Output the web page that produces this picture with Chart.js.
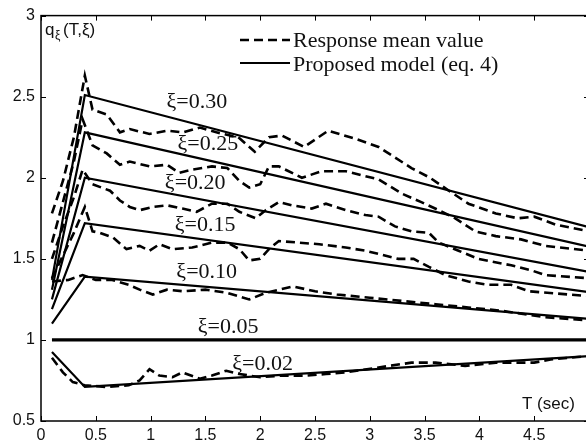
<!DOCTYPE html>
<html>
<head>
<meta charset="utf-8">
<script src="https://cdn.jsdelivr.net/npm/chart.js@4.4.1/dist/chart.umd.min.js"></script>
<style>
html, body { margin: 0; padding: 0; background: #fff; overflow: hidden; }
#wrap { width: 594px; height: 444px; }
</style>
</head>
<body>
<div id="wrap"><canvas id="chart" width="594" height="444"></canvas></div>
<script>
// axis ticks
const xTicks = [0, 0.5, 1, 1.5, 2, 2.5, 3, 3.5, 4, 4.5, 5];
const yTicks = [0.5, 1, 1.5, 2, 2.5, 3];

// proposed model (eq. 4): start, peak at T=0.4, end
const modelT = [0.1, 0.4, 5];
const model30 = [1.37, 2.51, 1.695];
const model25 = [1.31, 2.28, 1.575];
const model20 = [1.25, 2.00, 1.42];
const model15 = [1.19, 1.72, 1.295];
const model10 = [1.10, 1.39, 1.13];
const model05 = [1.00, 1.00, 1.00];
const model02 = [0.925, 0.71, 0.90];

// response mean values
const respT30 = [0.1, 0.2, 0.3, 0.4, 0.47, 0.6, 0.72, 0.81, 0.99, 1.15, 1.3, 1.45, 1.6, 1.8, 1.95, 2.08, 2.2, 2.4, 2.62, 2.87, 3.08, 3.38, 3.55, 3.7, 3.9, 4.15, 4.35, 4.5, 4.7, 5.0];
const resp30  = [1.78, 1.98, 2.25, 2.63, 2.42, 2.39, 2.28, 2.30, 2.27, 2.29, 2.28, 2.31, 2.28, 2.25, 2.16, 2.25, 2.26, 2.19, 2.29, 2.24, 2.19, 2.06, 2.00, 1.93, 1.84, 1.78, 1.75, 1.76, 1.71, 1.67];

const respT25 = [0.1, 0.2, 0.3, 0.38, 0.47, 0.6, 0.72, 0.81, 0.99, 1.15, 1.26, 1.38, 1.56, 1.7, 1.81, 1.9, 2.0, 2.08, 2.17, 2.38, 2.56, 2.78, 2.96, 3.08, 3.3, 3.47, 3.63, 3.78, 3.96, 4.15, 4.38, 4.6, 5.0];
const resp25  = [1.60, 1.85, 2.10, 2.36, 2.20, 2.15, 2.08, 2.10, 2.07, 2.08, 2.03, 2.05, 2.07, 2.06, 1.98, 1.94, 1.96, 2.07, 2.07, 2.00, 2.04, 2.04, 2.01, 1.99, 1.90, 1.85, 1.80, 1.75, 1.67, 1.64, 1.62, 1.58, 1.55];

const respT20 = [0.1, 0.2, 0.3, 0.38, 0.47, 0.63, 0.72, 0.81, 0.9, 1.02, 1.15, 1.29, 1.42, 1.56, 1.7, 1.81, 1.96, 2.05, 2.17, 2.29, 2.47, 2.6, 2.78, 2.96, 3.08, 3.23, 3.38, 3.54, 3.63, 3.81, 3.99, 4.29, 4.47, 4.6, 5.0];
const resp20  = [1.50, 1.70, 1.88, 2.05, 1.96, 1.92, 1.86, 1.82, 1.80, 1.82, 1.83, 1.81, 1.79, 1.84, 1.84, 1.79, 1.75, 1.80, 1.85, 1.83, 1.81, 1.84, 1.80, 1.77, 1.76, 1.70, 1.67, 1.66, 1.60, 1.55, 1.50, 1.46, 1.43, 1.40, 1.38];

const respT15 = [0.1, 0.2, 0.3, 0.4, 0.47, 0.54, 0.66, 0.78, 0.9, 0.99, 1.08, 1.2, 1.38, 1.56, 1.7, 1.81, 1.9, 2.0, 2.08, 2.17, 2.35, 2.54, 2.78, 2.96, 3.08, 3.26, 3.4, 3.54, 3.69, 3.9, 4.08, 4.29, 4.45, 5.0];
const resp15  = [1.38, 1.52, 1.66, 1.82, 1.67, 1.66, 1.63, 1.56, 1.58, 1.55, 1.59, 1.56, 1.57, 1.60, 1.60, 1.56, 1.49, 1.50, 1.56, 1.61, 1.60, 1.59, 1.57, 1.55, 1.53, 1.50, 1.50, 1.45, 1.40, 1.36, 1.34, 1.34, 1.30, 1.27];

const respT10 = [0.1, 0.25, 0.38, 0.5, 0.65, 0.8, 0.9, 1.02, 1.15, 1.3, 1.5, 1.7, 1.9, 2.05, 2.3, 2.5, 2.7, 3.0, 3.3, 3.6, 3.9, 4.2, 4.4, 4.6, 5.0];
const resp10  = [1.36, 1.37, 1.40, 1.37, 1.37, 1.34, 1.31, 1.28, 1.31, 1.30, 1.31, 1.29, 1.25, 1.29, 1.33, 1.30, 1.28, 1.26, 1.24, 1.22, 1.20, 1.18, 1.16, 1.14, 1.12];

const respT02 = [0.1, 0.2, 0.29, 0.4, 0.6, 0.8, 0.9, 0.99, 1.08, 1.2, 1.29, 1.45, 1.56, 1.69, 1.81, 2.0, 2.2, 2.42, 2.6, 2.78, 3.08, 3.38, 3.6, 3.87, 4.15, 4.5, 4.65, 5.0];
const resp02  = [0.89, 0.80, 0.74, 0.72, 0.71, 0.72, 0.75, 0.82, 0.78, 0.77, 0.80, 0.76, 0.78, 0.81, 0.79, 0.77, 0.78, 0.78, 0.79, 0.80, 0.83, 0.86, 0.86, 0.84, 0.86, 0.86, 0.88, 0.90];

// curve labels
const xiLabels = ['\u03BE=0.30', '\u03BE=0.25', '\u03BE=0.20', '\u03BE=0.15', '\u03BE=0.10', '\u03BE=0.05', '\u03BE=0.02'];
const legendLabels = ['Response mean value', 'Proposed model (eq. 4)'];

const serif = "'Liberation Serif', 'Times New Roman', serif";
const sans = "'Liberation Sans', Arial, Helvetica, sans-serif";

const pts = (xs, ys) => xs.map((x, i) => ({ x: x, y: ys[i] }));
const dashed = (xs, ys) => ({ data: pts(xs, ys), borderColor: '#000', borderWidth: 2.6, borderDash: [9, 5] });
const solid = (ys, w) => ({ data: pts(modelT, ys), borderColor: '#000', borderWidth: w || 2.2 });

// label anchors in data units (T, q)
const labelPos = [[1.145, 2.43], [1.245, 2.17], [1.13, 1.93], [1.22, 1.67], [1.235, 1.38], [1.43, 1.04], [1.745, 0.815]];

const annotations = {
    id: 'annotations',
    beforeDatasetsDraw(chart) {
        const { ctx, scales: { x, y } } = chart;
        ctx.save();
        ctx.fillStyle = '#111';
        ctx.font = '22px ' + serif;
        ctx.textBaseline = 'alphabetic';
        xiLabels.forEach((t, i) => {
            ctx.fillText(t, x.getPixelForValue(labelPos[i][0]), y.getPixelForValue(labelPos[i][1]));
        });
        ctx.restore();
    },
    afterDatasetsDraw(chart) {
        const { ctx, chartArea: a, scales: { x, y } } = chart;
        ctx.save();
        // frame
        ctx.strokeStyle = '#000';
        ctx.lineWidth = 1.5;
        ctx.strokeRect(a.left, a.top, a.right - a.left, a.bottom - a.top);
        // inward tick marks
        ctx.lineWidth = 1;
        ctx.beginPath();
        xTicks.forEach(v => {
            const px = Math.round(x.getPixelForValue(v)) + 0.5;
            ctx.moveTo(px, a.bottom); ctx.lineTo(px, a.bottom - 5);
            ctx.moveTo(px, a.top); ctx.lineTo(px, a.top + 5);
        });
        yTicks.forEach(v => {
            const py = Math.round(y.getPixelForValue(v)) + 0.5;
            ctx.moveTo(a.left, py); ctx.lineTo(a.left + 5, py);
            ctx.moveTo(a.right, py); ctx.lineTo(a.right - 5, py);
        });
        ctx.stroke();

        // legend
        ctx.lineWidth = 2.6;
        ctx.setLineDash([9, 5]);
        ctx.beginPath(); ctx.moveTo(240, 40); ctx.lineTo(290, 40); ctx.stroke();
        ctx.setLineDash([]);
        ctx.lineWidth = 2.2;
        ctx.beginPath(); ctx.moveTo(240, 63); ctx.lineTo(290, 63); ctx.stroke();
        ctx.fillStyle = '#111';
        ctx.font = '22px ' + serif;
        ctx.fillText(legendLabels[0], 293, 47);
        ctx.fillText(legendLabels[1], 293, 71);

        // axis names
        ctx.font = '17px ' + sans;
        ctx.fillText('q', 45, 35);
        ctx.font = '12px ' + sans;
        ctx.fillText('\u03BE', 55, 39);
        ctx.font = '17px ' + sans;
        ctx.fillText('(T,\u03BE)', 63, 35);
        ctx.fillText('T (sec)', 522, 409);
        ctx.restore();
    }
};

new Chart(document.getElementById('chart').getContext('2d'), {
    type: 'line',
    data: {
        datasets: [
            dashed(respT30, resp30), solid(model30),
            dashed(respT25, resp25), solid(model25),
            dashed(respT20, resp20), solid(model20),
            dashed(respT15, resp15), solid(model15),
            dashed(respT10, resp10), solid(model10),
            solid(model05, 3.4),
            dashed(respT02, resp02), solid(model02)
        ]
    },
    options: {
        responsive: false,
        animation: false,
        layout: { padding: { top: 9, right: 4, left: 0, bottom: 0 } },
        elements: { point: { radius: 0 }, line: { tension: 0 } },
        plugins: { legend: { display: false }, tooltip: { enabled: false } },
        scales: {
            x: {
                type: 'linear', min: 0, max: 5,
                afterBuildTicks: s => { s.ticks = xTicks.map(v => ({ value: v })); },
                afterFit: s => { s.height = 23; },
                border: { display: false },
                grid: { display: false, drawTicks: false },
                ticks: { color: '#111', font: { family: sans, size: 16 }, padding: 5, maxRotation: 0, autoSkip: false, callback: v => (v === 5 ? '' : String(v)) }
            },
            y: {
                type: 'linear', min: 0.5, max: 3,
                afterBuildTicks: s => { s.ticks = yTicks.map(v => ({ value: v })); },
                afterFit: s => { s.width = 41; },
                border: { display: false },
                grid: { display: false, drawTicks: false },
                ticks: { color: '#111', font: { family: sans, size: 16 }, padding: 6, autoSkip: false, callback: v => String(v) }
            }
        }
    },
    plugins: [annotations]
});
</script>
</body>
</html>
